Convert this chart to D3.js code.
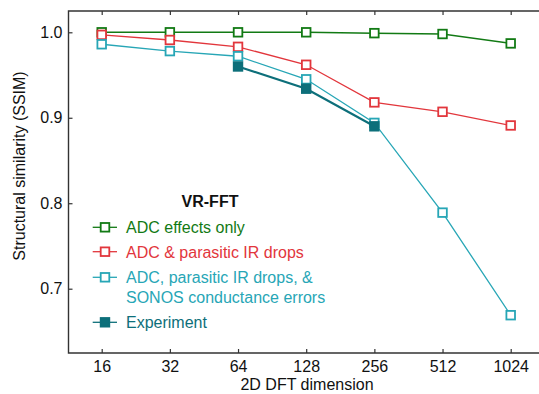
<!DOCTYPE html>
<html>
<head>
<meta charset="utf-8">
<script src="https://cdn.jsdelivr.net/npm/d3@7"></script>
<style>
  html, body { margin: 0; padding: 0; background: #fff; }
  svg { display: block; font-family: "Liberation Sans", Arial, sans-serif; }
</style>
</head>
<body>
<svg id="chart" width="539" height="394"></svg>
<script>
// DFT sizes on the x axis
const dims = [16, 32, 64, 128, 256, 512, 1024];
const yTicks = [0.7, 0.8, 0.9, 1.0];

// SSIM per DFT size for each simulation case
const adcOnly    = [1.000, 1.000, 1.000, 1.000, 0.999, 0.998, 0.987];
const adcIR      = [0.997, 0.991, 0.983, 0.962, 0.918, 0.907, 0.891];
const adcIRSonos = [0.986, 0.978, 0.972, 0.945, 0.894, 0.789, 0.669];
// measured on hardware
const expDims = [64, 128, 256];
const experiment = [0.960, 0.934, 0.890];

const series = [
  { name: "ADC effects only", x: dims, y: adcOnly, color: "#127a14", filled: false, lw: 1.5 },
  { name: "ADC & parasitic IR drops", x: dims, y: adcIR, color: "#e2363c", filled: false, lw: 1.3 },
  { name: ["ADC, parasitic IR drops, &", "SONOS conductance errors"], x: dims, y: adcIRSonos, color: "#27a6b6", filled: false, lw: 1.3 },
  { name: "Experiment", x: expDims, y: experiment, color: "#0d6f7a", filled: true, lw: 2.2 }
];

const svg = d3.select("#chart");
const L = 68.5, R = 545, T = 11, B = 353;

const x = d3.scaleLog().base(2).domain([16, 1024]).range([101.7, 510.7]);
const y = d3.scaleLinear().domain([0.7, 1.0]).range([288.7, 32.3]);

const axisColor = "#333";

// inward ticks on bottom, top and left
const gx = svg.append("g").attr("transform", `translate(0,${B})`)
  .call(d3.axisBottom(x).tickValues(dims).tickFormat(d3.format("d")).tickSizeInner(-4).tickSizeOuter(0).tickPadding(7.5));
gx.select(".domain").remove();
gx.selectAll("line").attr("stroke", axisColor).attr("stroke-width", 1.2);
gx.selectAll("text").attr("font-size", 16).attr("fill", "#111");

const gt = svg.append("g").attr("transform", `translate(0,${T})`)
  .call(d3.axisTop(x).tickValues(dims).tickFormat("").tickSizeInner(-4).tickSizeOuter(0));
gt.select(".domain").remove();
gt.selectAll("line").attr("stroke", axisColor).attr("stroke-width", 1.2);

const gy = svg.append("g").attr("transform", `translate(${L},0)`)
  .call(d3.axisLeft(y).tickValues(yTicks).tickFormat(d3.format(".1f")).tickSizeInner(-4).tickSizeOuter(0).tickPadding(6));
gy.select(".domain").remove();
gy.selectAll("line").attr("stroke", axisColor).attr("stroke-width", 1.2);
gy.selectAll("text").attr("font-size", 16).attr("fill", "#111");

// frame
svg.append("path")
  .attr("d", `M${R},${T}H${L}V${B}H${R}`)
  .attr("fill", "none").attr("stroke", axisColor).attr("stroke-width", 1.4);

// axis titles
svg.append("text").attr("x", 307).attr("y", 390).attr("text-anchor", "middle")
  .attr("font-size", 16).attr("fill", "#111").text("2D DFT dimension");
svg.append("text").attr("transform", "translate(25,166) rotate(-90)").attr("text-anchor", "middle")
  .attr("font-size", 16).attr("fill", "#111").text("Structural similarity (SSIM)");

const line = d3.line().x(d => x(d[0])).y(d => y(d[1]));
const ms = 8.6;

series.forEach(s => {
  const pts = s.x.map((v, i) => [v, s.y[i]]);
  const g = svg.append("g");
  g.append("path").attr("d", line(pts)).attr("fill", "none")
    .attr("stroke", s.color).attr("stroke-width", s.lw);
  g.selectAll("rect").data(pts).join("rect")
    .attr("x", d => x(d[0]) - ms / 2).attr("y", d => y(d[1]) - ms / 2)
    .attr("width", ms).attr("height", ms)
    .attr("fill", s.filled ? s.color : "#fff")
    .attr("stroke", s.color).attr("stroke-width", 1.8);
});

// legend
svg.append("text").attr("x", 210).attr("y", 207).attr("text-anchor", "middle")
  .attr("font-size", 16).attr("font-weight", "bold").attr("fill", "#111").text("VR-FFT");

const rows = [227.3, 251.7, 277.3, 322.3];
series.forEach((s, i) => {
  const ry = rows[i];
  const g = svg.append("g");
  g.append("line").attr("x1", 92.7).attr("x2", 117).attr("y1", ry).attr("y2", ry)
    .attr("stroke", s.color).attr("stroke-width", 1.3);
  g.append("rect").attr("x", 105 - ms / 2).attr("y", ry - ms / 2).attr("width", ms).attr("height", ms)
    .attr("fill", s.filled ? s.color : "#fff").attr("stroke", s.color).attr("stroke-width", 1.8);
  const names = Array.isArray(s.name) ? s.name : [s.name];
  const t = g.append("text").attr("x", 126).attr("y", ry + 5.8).attr("font-size", 16).attr("fill", s.color);
  names.forEach((n, j) => t.append("tspan").attr("x", 126).attr("dy", j === 0 ? 0 : 20).text(n));
});
</script>
</body>
</html>
